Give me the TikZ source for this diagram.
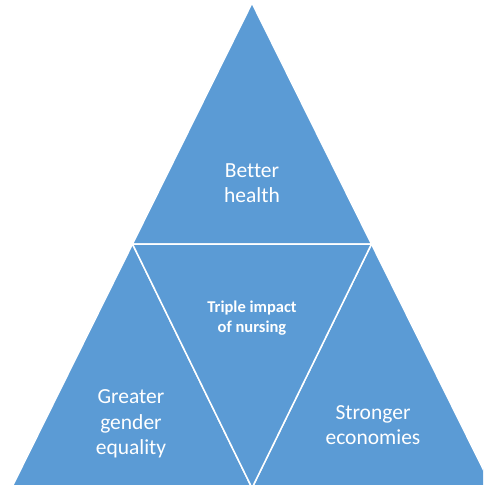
\documentclass[tikz,border=0pt]{standalone}
\usepackage{fontspec}
\setmainfont{Carlito}[Ligatures={NoCommon}]
\definecolor{officeblue}{HTML}{5B9BD5}
\begin{document}
\begin{tikzpicture}[
    x=1pt, y=-1pt, % pixel grid, y downwards
    segment/.style={fill=officeblue, draw=white, line width=1.5pt, line join=miter},
    label/.style={text=white, align=center, font=\fontsize{21.5}{25.5}\selectfont},
    centre/.style={text=white, align=center, font=\bfseries\fontsize{16.5}{20}\selectfont}
]
    \useasboundingbox (0,0) rectangle (483,485);
    \clip (0,0) rectangle (483,485);

    % corners of the big triangle (base just below the page) and the mid points
    \coordinate (apex) at (252,3);
    \coordinate (left) at (11.5,488);
    \coordinate (right) at (492.5,488);
    \coordinate (midleft) at (132.5,244);
    \coordinate (midright) at (371.5,244);
    \coordinate (midbottom) at (252,488);

    % four segments
    \filldraw[segment] (apex) -- (midright) -- (midleft) -- cycle;
    \filldraw[segment] (midleft) -- (midbottom) -- (left) -- cycle;
    \filldraw[segment] (midright) -- (right) -- (midbottom) -- cycle;
    \filldraw[segment] (midleft) -- (midright) -- (midbottom) -- cycle;

    % texts
    \node[label] (health) at (252,183) {Better\\health};
    \node[centre] (nursing) at (252,318) {Triple impact\\of nursing};
    \node[label] (gender) at (131,424) {Greater\\gender\\equality};
    \node[label] (economies) at (373,425) {Stronger\\economies};
\end{tikzpicture}
\end{document}
